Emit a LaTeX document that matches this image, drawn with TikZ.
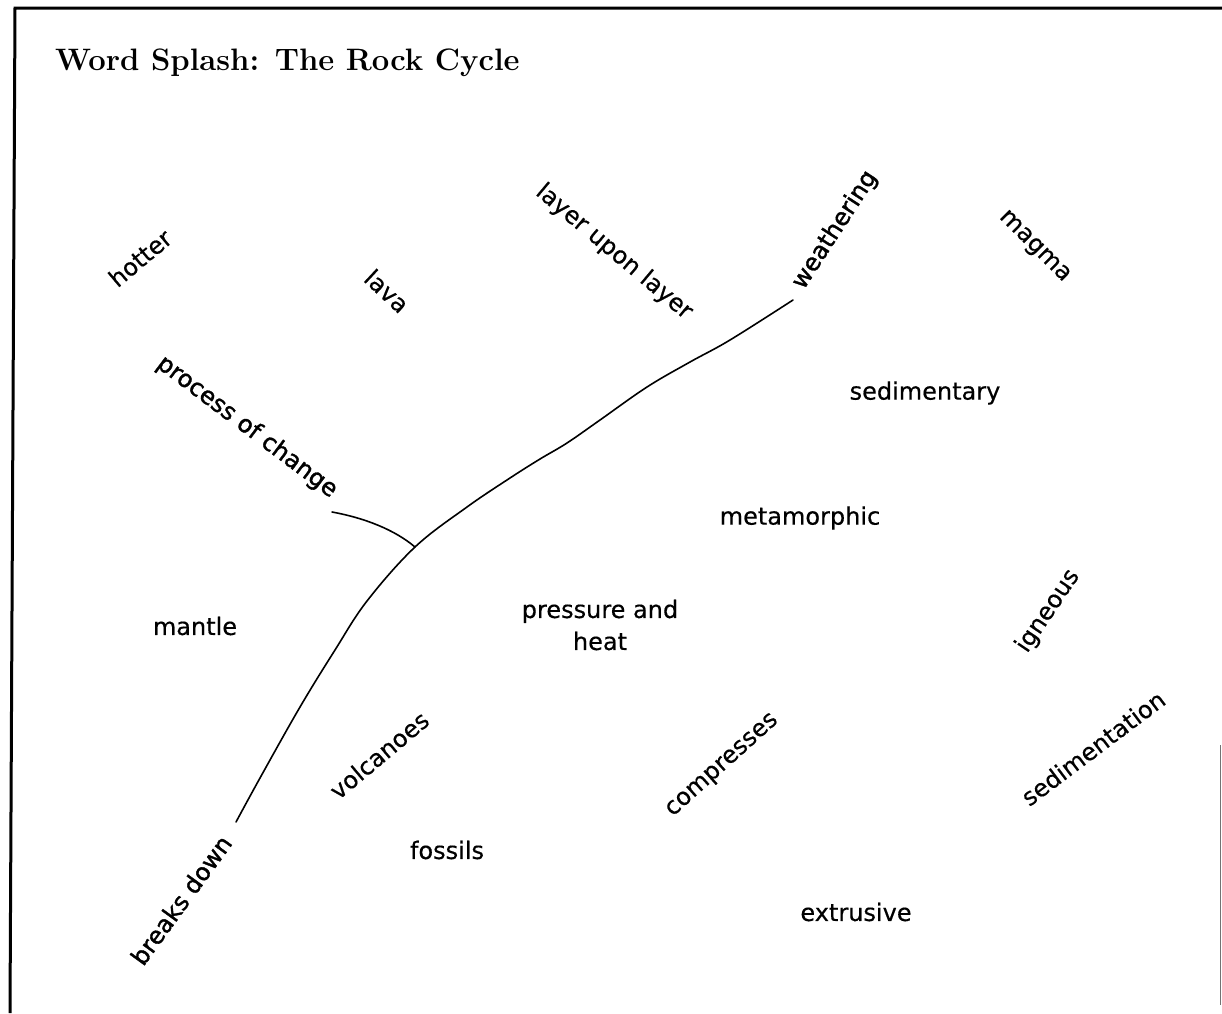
\documentclass[tikz,border=0pt]{standalone}
\usepackage{fontspec}
\newfontfamily\wf[FakeBold=0.4]{DejaVu Sans}
\newfontfamily\wfb[FakeBold=1.4]{DejaVu Sans}
\begin{document}
\begin{tikzpicture}[x=1pt,y=-1pt,
  word/.style={font=\wf\fontsize{24}{32}\selectfont, inner sep=0pt, align=center},
  keyword/.style={font=\wfb\fontsize{24}{32}\selectfont, inner sep=0pt},
  titletext/.style={font=\bfseries\fontsize{31}{36}\selectfont, inner sep=0pt, anchor=base west},
  frame/.style={line width=3pt, black},
  stem/.style={line width=1.6pt, black, line cap=round}]
\useasboundingbox (0,0) rectangle (1222,1013);
\fill[white] (0,0) rectangle (1222,1013);
% frame
\coordinate (tl) at (15,8);
\coordinate (tr) at (1222,8);
\coordinate (bl) at (10,1013);
\draw[frame] (tr) -- (tl) -- (bl);
\coordinate (rt) at (1220,745);
\coordinate (rb) at (1220,1005);
\draw[line width=0.8pt, black!55] (rt) -- (rb);
% title
\node[titletext] (title) at (55,70) {Word Splash: The Rock Cycle};
% words
\node[word, rotate=40]  (hotter) at (140,258) {hotter};
\node[word, rotate=-43] (lava) at (387,291) {lava};
\node[word, rotate=-40] (layer) at (614,252) {layer upon layer};
\node[keyword, rotate=57] (weathering) at (835,230) {weathering};
\node[word, rotate=-45] (magma) at (1034,247) {magma};
\node[word] (sedimentary) at (925,393) {sedimentary};
\node[keyword, rotate=-37] (process) at (247,427) {process of change};
\node[word] (metamorphic) at (800,518) {metamorphic};
\node[word] (mantle) at (195,626) {mantle};
\node[word] (pressure) at (600,625) {pressure and\\heat};
\node[word, rotate=56] (igneous) at (1048,611) {igneous};
\node[word, rotate=40] (volcanoes) at (379,755) {volcanoes};
\node[word, rotate=42] (compresses) at (723,766) {compresses};
\node[word, rotate=37] (sedimentation) at (1093,748) {sedimentation};
\node[word] (fossils) at (447,850) {fossils};
\node[word] (extrusive) at (856,912) {extrusive};
\node[keyword, rotate=54] (breaks) at (181,900) {breaks down};
% stems
\coordinate (bdEnd) at (236,822);
\coordinate (fork) at (415,547);
\coordinate (wEnd) at (793,300);
\coordinate (pcEnd) at (332,512);
\draw[stem] plot[smooth, tension=0.6] coordinates {(bdEnd) (260,778) (300,707) (335,650) (367,601) (fork) (467,507) (510,478) (540,459) (567,443) (600,420) (647,387) (690,362) (730,340) (wEnd)};
\draw[stem] (pcEnd) .. controls (365,518) and (395,530) .. (fork);
\end{tikzpicture}
\end{document}
